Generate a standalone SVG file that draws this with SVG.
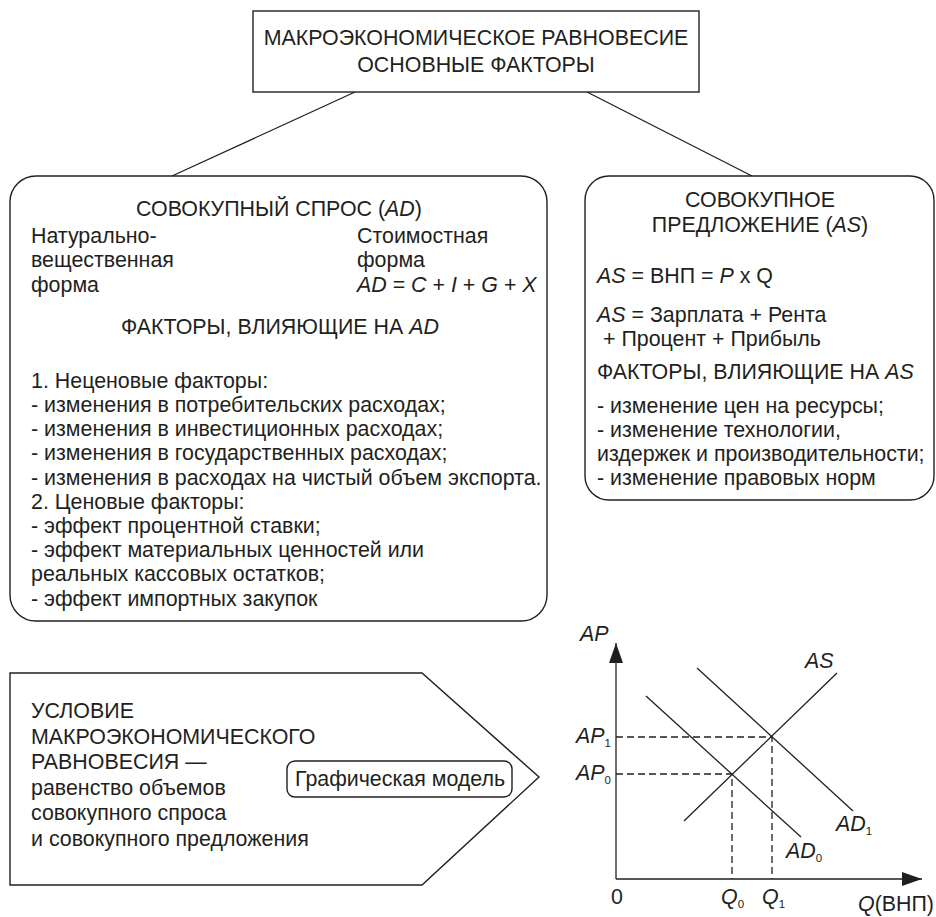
<svg xmlns="http://www.w3.org/2000/svg" width="936" height="917" viewBox="0 0 936 917">
<style>
text { font-family: "Liberation Sans", Arial, sans-serif; font-size: 21.4px; fill: #231f20; }
.c { text-anchor: middle; }
.i { font-style: italic; }
.box { fill: #fff; stroke: #231f20; stroke-width: 1.4; }
.ln { stroke: #231f20; stroke-width: 1.3; fill: none; }
.dash { stroke: #231f20; stroke-width: 1.3; fill: none; stroke-dasharray: 7 4; }
.sub { font-size: 11.5px; font-style: normal; }
</style>
<defs>
<marker id="arr" markerUnits="userSpaceOnUse" viewBox="0 0 20 14" refX="20" refY="7" markerWidth="20" markerHeight="14" orient="auto">
<path d="M0,0 L20,7 L0,14 z" fill="#231f20"/>
</marker>
</defs>

<g id="connectors">
<line class="ln" x1="355" y1="92" x2="172" y2="176"/>
<line class="ln" x1="587" y1="92" x2="752" y2="176"/>
</g>

<g id="title">
<rect class="box" x="253" y="11" width="446" height="81"/>
<text class="c" x="476" y="45">МАКРОЭКОНОМИЧЕСКОЕ РАВНОВЕСИЕ</text>
<text class="c" x="476" y="72">ОСНОВНЫЕ ФАКТОРЫ</text>
</g>

<g id="ad">
<rect class="box" x="10" y="176" width="537" height="445" rx="26" ry="26"/>
<text class="c" x="279" y="216">СОВОКУПНЫЙ СПРОС (<tspan class="i">AD</tspan>)</text>
<text x="31" y="243">Натурально-</text>
<text x="31" y="267">вещественная</text>
<text x="31" y="292">форма</text>
<text x="357" y="243">Стоимостная</text>
<text x="357" y="267">форма</text>
<text x="357" y="292"><tspan class="i">AD</tspan> = <tspan class="i">C</tspan> + <tspan class="i">I</tspan> + <tspan class="i">G</tspan> + <tspan class="i">X</tspan></text>
<text class="c" x="280" y="334">ФАКТОРЫ, ВЛИЯЮЩИЕ НА <tspan class="i">AD</tspan></text>
<text x="31" y="388">1. Неценовые факторы:</text>
<text x="31" y="412">- изменения в потребительских расходах;</text>
<text x="31" y="436">- изменения в инвестиционных расходах;</text>
<text x="31" y="460">- изменения в государственных расходах;</text>
<text x="31" y="485">- изменения в расходах на чистый объем экспорта.</text>
<text x="31" y="509">2. Ценовые факторы:</text>
<text x="31" y="533">- эффект процентной ставки;</text>
<text x="31" y="557">- эффект материальных ценностей или</text>
<text x="31" y="581">реальных кассовых остатков;</text>
<text x="31" y="606">- эффект импортных закупок</text>
</g>

<g id="as">
<rect class="box" x="585" y="176" width="349" height="324" rx="24" ry="24"/>
<text class="c" x="760" y="207">СОВОКУПНОЕ</text>
<text class="c" x="760" y="232">ПРЕДЛОЖЕНИЕ (<tspan class="i">AS</tspan>)</text>
<text x="597" y="283"><tspan class="i">AS</tspan> = ВНП = <tspan class="i">P</tspan> x Q</text>
<text x="597" y="322"><tspan class="i">AS</tspan> = Зарплата + Рента</text>
<text x="597" y="346" xml:space="preserve"> + Процент + Прибыль</text>
<text x="597" y="379">ФАКТОРЫ, ВЛИЯЮЩИЕ НА <tspan class="i">AS</tspan></text>
<text x="597" y="413">- изменение цен на ресурсы;</text>
<text x="597" y="437">- изменение технологии,</text>
<text x="597" y="461">издержек и производительности;</text>
<text x="597" y="485">- изменение правовых норм</text>
</g>

<g id="condition">
<path class="box" d="M10,673 L422,673 L539,777 L422,885 L10,885 Z"/>
<text x="31" y="718">УСЛОВИЕ</text>
<text x="31" y="744">МАКРОЭКОНОМИЧЕСКОГО</text>
<text x="31" y="769">РАВНОВЕСИЯ —</text>
<text x="31" y="795">равенство объемов</text>
<text x="31" y="820">совокупного спроса</text>
<text x="31" y="846">и совокупного предложения</text>
</g>

<g id="graphic-model">
<rect class="box" x="287" y="761" width="225" height="36" rx="8" ry="8"/>
<text x="295" y="786">Графическая модель</text>
</g>

<g id="graph">
<line class="ln" x1="616" y1="879" x2="616" y2="643" marker-end="url(#arr)"/>
<line class="ln" x1="616" y1="879" x2="922" y2="879" marker-end="url(#arr)"/>
<line class="ln" x1="684" y1="821" x2="837" y2="673"/>
<line class="ln" x1="646" y1="696" x2="801" y2="837"/>
<line class="ln" x1="697" y1="668" x2="853" y2="811"/>
<path class="dash" d="M616,737 H772 V879"/>
<path class="dash" d="M616,774 H732 V879"/>
<text class="i" x="580" y="641">AP</text>
<text class="i" x="576" y="743">AP<tspan class="sub" dy="4">1</tspan></text>
<text class="i" x="576" y="780">AP<tspan class="sub" dy="4">0</tspan></text>
<text class="i" x="805" y="668">AS</text>
<text class="i" x="836" y="831">AD<tspan class="sub" dy="4">1</tspan></text>
<text class="i" x="786" y="858">AD<tspan class="sub" dy="4">0</tspan></text>
<text x="611" y="904">0</text>
<text class="i" x="721" y="904">Q<tspan class="sub" dy="4">0</tspan></text>
<text class="i" x="762" y="904">Q<tspan class="sub" dy="4">1</tspan></text>
<text x="858" y="911"><tspan class="i">Q</tspan>(ВНП)</text>
</g>
</svg>
